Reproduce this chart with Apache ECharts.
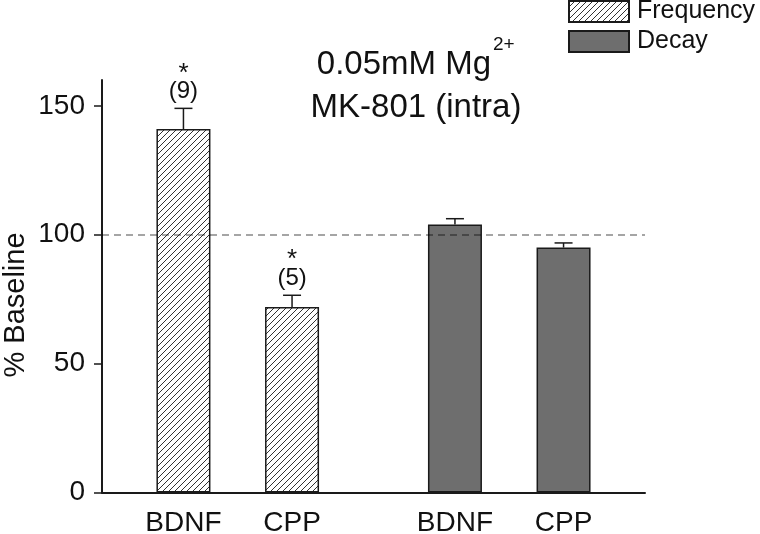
<!DOCTYPE html>
<html>
<head>
<meta charset="utf-8">
<script src="https://cdn.jsdelivr.net/npm/echarts@6/dist/echarts.min.js"></script>
<style>
html,body{margin:0;padding:0;background:#fff;}
#chart{width:760px;height:534px;}
</style>
</head>
<body>
<div id="chart"></div>
<script>
// ---- data ----
const groups = ['BDNF', 'CPP'];
const seriesNames = ['Frequency', 'Decay'];
const frequencyMean = [141, 72];
const frequencyErr = [8, 4.5];
const frequencySig = ['*', '*'];
const frequencyN = ['(9)', '(5)'];
const decayMean = [104, 95];
const decayErr = [2.2, 1.8];
const yTicks = [0, 50, 100, 150];
const baselineValue = 100;
const yAxisTitle = '% Baseline';
const titleLine1 = '0.05mM Mg';
const titleSup = '2+';
const titleLine2 = 'MK-801 (intra)';

// ---- layout (not data) ----
const FONT = '"Liberation Sans", Arial, Helvetica, sans-serif';
const freqSlots = [1.5, 3.5];
const decaySlots = [6.5, 8.5];

const hatch = document.createElement('canvas');
hatch.width = 6; hatch.height = 6;
(function () {
  const c = hatch.getContext('2d');
  c.fillStyle = '#fff'; c.fillRect(0, 0, 6, 6);
  c.strokeStyle = '#333'; c.lineWidth = 1;
  c.beginPath();
  c.moveTo(0, 6); c.lineTo(6, 0);
  c.moveTo(-1, 1); c.lineTo(1, -1);
  c.moveTo(5, 7); c.lineTo(7, 5);
  c.stroke();
})();

const labelMap = {};
freqSlots.forEach((x, i) => labelMap[x] = groups[i]);
decaySlots.forEach((x, i) => labelMap[x] = groups[i]);

const freqData = freqSlots.map((x, i) => [x, frequencyMean[i]]);
const decayData = decaySlots.map((x, i) => [x, decayMean[i]]);
const freqErrData = freqSlots.map((x, i) => [x, frequencyMean[i], frequencyErr[i]]);
const decayErrData = decaySlots.map((x, i) => [x, decayMean[i], decayErr[i]]);

function errRenderer(sig, nlab) {
  return function (params, api) {
    const x = api.value(0), m = api.value(1), e = api.value(2);
    const p0 = api.coord([x, m]);
    const p1 = api.coord([x, m + e]);
    const st = { stroke: '#1a1a1a', lineWidth: 1.5 };
    const children = [
      { type: 'line', shape: { x1: p0[0], y1: p0[1], x2: p1[0], y2: p1[1] }, style: st },
      { type: 'line', shape: { x1: p1[0] - 9, y1: p1[1], x2: p1[0] + 9, y2: p1[1] }, style: st }
    ];
    if (nlab) {
      children.push({ type: 'text', x: p1[0], y: p1[1] - 17,
        style: { text: nlab[params.dataIndex], font: '24px ' + FONT, fill: '#111', align: 'center', verticalAlign: 'middle' } });
    }
    if (sig) {
      children.push({ type: 'text', x: p1[0], y: p1[1] - 35,
        style: { text: sig[params.dataIndex], font: '26px ' + FONT, fill: '#111', align: 'center', verticalAlign: 'middle' } });
    }
    return { type: 'group', children };
  };
}

const chart = echarts.init(document.getElementById('chart'), null, { renderer: 'canvas' });
const axisLine = { show: true, lineStyle: { color: '#1a1a1a', width: 2 } };

chart.setOption({
  animation: false,
  backgroundColor: '#fff',
  grid: { left: 102, right: 115, top: 80, bottom: 41.5, containLabel: false, outerBoundsMode: 'none' },
  legend: {
    data: seriesNames,
    orient: 'vertical',
    left: 568, top: -1, padding: 0,
    itemWidth: 60, itemHeight: 21, itemGap: 5,
    icon: 'rect',
    textStyle: { fontFamily: FONT, fontSize: 25, color: '#111', padding: [0, 0, 0, 3], lineHeight: 25 }
  },
  graphic: [
    { type: 'text', x: 491, y: 65, silent: true,
      style: { text: titleLine1, font: '33px ' + FONT, fill: '#111', align: 'right', verticalAlign: 'middle' } },
    { type: 'text', x: 493, y: 45, silent: true,
      style: { text: titleSup, font: '19px ' + FONT, fill: '#111', align: 'left', verticalAlign: 'middle' } },
    { type: 'text', x: 416, y: 107.5, silent: true,
      style: { text: titleLine2, font: '33px ' + FONT, fill: '#111', align: 'center', verticalAlign: 'middle' } },
    { type: 'text', x: 16, y: 305, rotation: Math.PI / 2, silent: true,
      style: { text: yAxisTitle, font: '29px ' + FONT, fill: '#111', align: 'center', verticalAlign: 'middle' } }
  ],
  xAxis: {
    type: 'value', min: 0, max: 10,
    axisLine: axisLine,
    axisTick: { show: false },
    splitLine: { show: false },
    axisLabel: {
      customValues: freqSlots.concat(decaySlots),
      formatter: v => labelMap[v] || '',
      fontFamily: FONT, fontSize: 28, color: '#111', margin: 17
    }
  },
  yAxis: {
    type: 'value', min: 0, max: 160, interval: 50,
    axisLine: axisLine,
    axisTick: { show: true, length: 8, customValues: yTicks, lineStyle: { color: '#1a1a1a', width: 1.5 } },
    splitLine: { show: false },
    axisLabel: { customValues: yTicks, fontFamily: FONT, fontSize: 28, color: '#111', margin: 17 }
  },
  series: [
    {
      name: seriesNames[0], type: 'bar', data: freqData, barWidth: 54,
      itemStyle: { color: { image: hatch, repeat: 'repeat' }, borderColor: '#1a1a1a', borderWidth: 1.5 }
    },
    {
      name: seriesNames[1], type: 'bar', data: decayData, barWidth: 54, barGap: '-100%',
      itemStyle: { color: '#6e6e6e', borderColor: '#1a1a1a', borderWidth: 1.5 },
      markLine: {
        silent: true, symbol: ['none', 'none'], z: 5,
        label: { show: false },
        lineStyle: { color: 'rgba(0,0,0,0.47)', width: 1.5, type: [7, 5] },
        data: [{ yAxis: baselineValue }]
      }
    },
    { type: 'custom', data: freqErrData, renderItem: errRenderer(frequencySig, frequencyN), z: 6 },
    { type: 'custom', data: decayErrData, renderItem: errRenderer(null, null), z: 6 }
  ]
});
</script>
</body>
</html>
